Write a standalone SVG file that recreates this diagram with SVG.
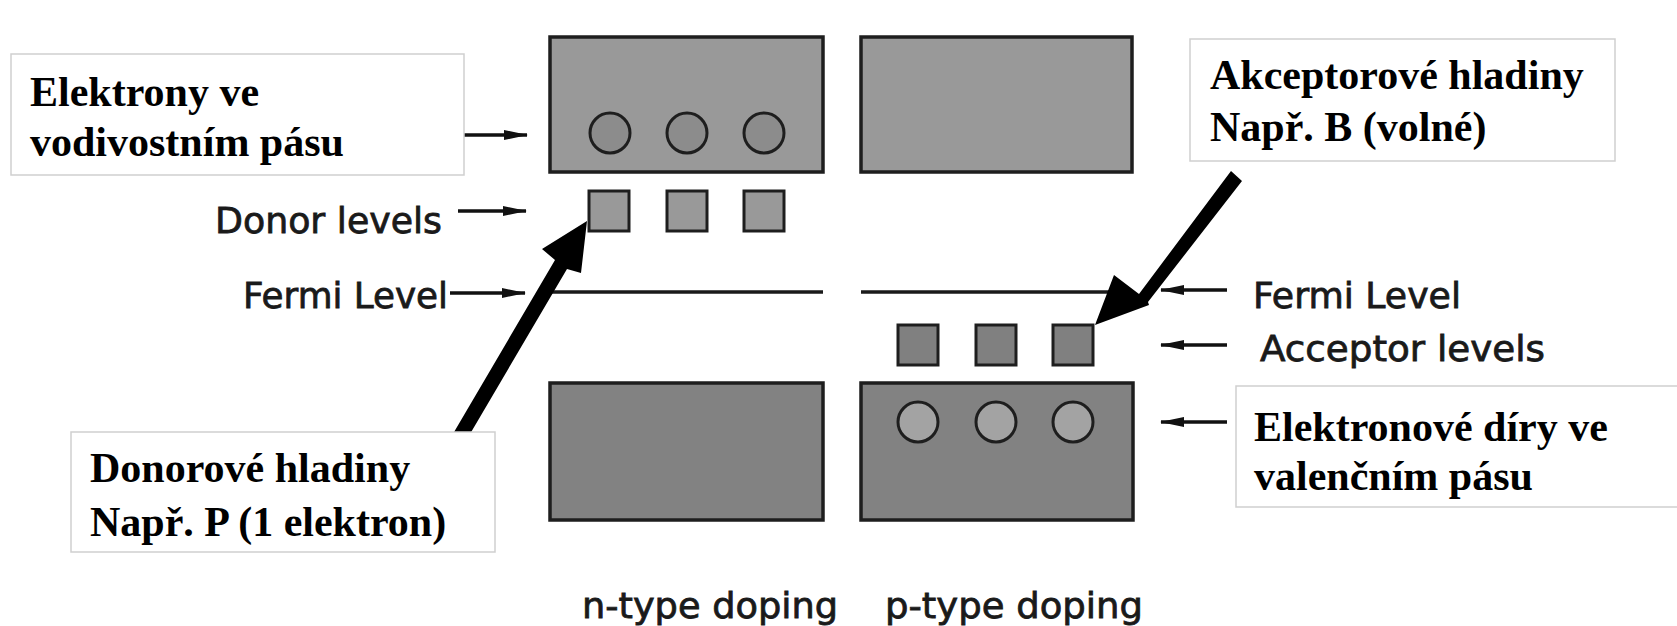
<svg xmlns="http://www.w3.org/2000/svg" width="1677" height="626" viewBox="0 0 1677 626">
<style>
.band{stroke:#1e1e1e;stroke-width:3.5}
.top{fill:#999}
.bot{fill:#828282}
.lvl{stroke:#1e1e1e;stroke-width:3}
.sm{font-family:"DejaVu Sans","Liberation Sans",Arial,sans-serif;font-size:36px;fill:#1a1a1a;stroke:#1a1a1a;stroke-width:0.8}
.lab{font-family:"Liberation Serif","Times New Roman",serif;font-size:42px;font-weight:bold;fill:#000}
.box{fill:#fff;stroke:#cfcfcf;stroke-width:1.5}
.ar{stroke:#111;stroke-width:3.5;fill:none}
.fermi{stroke:#1a1a1a;stroke-width:3.5}
</style>
<defs>
<marker id="ah" markerWidth="24" markerHeight="11" refX="23" refY="5.5" orient="auto" markerUnits="userSpaceOnUse">
<path d="M0,0.5 L24,5.5 L0,10.5 z" fill="#111"/>
</marker>
</defs>
<rect width="1677" height="626" fill="#fff"/>

<g id="n-conduction-band">
<rect class="band top" x="550" y="37" width="273" height="135"/>
<circle class="lvl" cx="610" cy="133" r="20" fill="#8c8c8c"/>
<circle class="lvl" cx="687" cy="133" r="20" fill="#8c8c8c"/>
<circle class="lvl" cx="764" cy="133" r="20" fill="#8c8c8c"/>
</g>
<g id="p-conduction-band">
<rect class="band top" x="861" y="37" width="271" height="135"/>
</g>
<g id="donor-levels">
<rect class="lvl" x="589" y="191" width="40" height="40" fill="#999"/>
<rect class="lvl" x="667" y="191" width="40" height="40" fill="#999"/>
<rect class="lvl" x="744" y="191" width="40" height="40" fill="#999"/>
</g>
<g id="fermi-n"><line class="fermi" x1="550" y1="292" x2="823" y2="292"/></g>
<g id="fermi-p"><line class="fermi" x1="861" y1="292" x2="1112" y2="292"/></g>
<g id="acceptor-levels">
<rect class="lvl" x="898" y="325" width="40" height="40" fill="#808080"/>
<rect class="lvl" x="976" y="325" width="40" height="40" fill="#808080"/>
<rect class="lvl" x="1053" y="325" width="40" height="40" fill="#808080"/>
</g>
<g id="n-valence-band">
<rect class="band bot" x="550" y="383" width="273" height="137"/>
</g>
<g id="p-valence-band">
<rect class="band bot" x="861" y="383" width="272" height="137"/>
<circle class="lvl" cx="918" cy="422" r="20" fill="#a3a3a3"/>
<circle class="lvl" cx="996" cy="422" r="20" fill="#a3a3a3"/>
<circle class="lvl" cx="1073" cy="422" r="20" fill="#a3a3a3"/>
</g>

<g id="small-labels">
<text class="sm" x="215" y="233" textLength="227" lengthAdjust="spacingAndGlyphs">Donor levels</text>
<text class="sm" x="243" y="308" textLength="205" lengthAdjust="spacingAndGlyphs">Fermi Level</text>
<text class="sm" x="1253" y="308" textLength="208" lengthAdjust="spacingAndGlyphs">Fermi Level</text>
<text class="sm" x="1260" y="361" textLength="285" lengthAdjust="spacingAndGlyphs">Acceptor levels</text>
<text class="sm" x="582" y="618" textLength="256" lengthAdjust="spacingAndGlyphs">n-type doping</text>
<text class="sm" x="885" y="618" textLength="258" lengthAdjust="spacingAndGlyphs">p-type doping</text>
</g>

<g id="connectors">
<line class="ar" x1="464" y1="135" x2="527" y2="135" marker-end="url(#ah)"/>
<line class="ar" x1="458" y1="211" x2="526" y2="211" marker-end="url(#ah)"/>
<line class="ar" x1="450" y1="293" x2="525" y2="293" marker-end="url(#ah)"/>
<line class="ar" x1="1227" y1="290" x2="1161" y2="290" marker-end="url(#ah)"/>
<line class="ar" x1="1227" y1="345" x2="1161" y2="345" marker-end="url(#ah)"/>
<line class="ar" x1="1227" y1="422" x2="1161" y2="422" marker-end="url(#ah)"/>
<polygon fill="#000" points="447,444 460,451 567,269 581,273 587,221 542,249 555,260"/>
<polygon fill="#000" points="1231,171 1242,181 1148,302 1149,305 1095,325 1114,275 1139,294"/>
</g>

<g id="label-elektrony">
<rect class="box" x="11" y="54" width="453" height="121"/>
<text class="lab" x="30" y="106">Elektrony ve</text>
<text class="lab" x="30" y="156">vodivostním pásu</text>
</g>
<g id="label-akceptor">
<rect class="box" x="1190" y="39" width="425" height="122"/>
<text class="lab" x="1210" y="89">Akceptorové hladiny</text>
<text class="lab" x="1210" y="141">Např. B (volné)</text>
</g>
<g id="label-diry">
<rect class="box" x="1236" y="386" width="445" height="121"/>
<text class="lab" x="1254" y="441">Elektronové díry ve</text>
<text class="lab" x="1254" y="490">valenčním pásu</text>
</g>
<g id="label-donor">
<rect class="box" x="71" y="432" width="424" height="120"/>
<text class="lab" x="90" y="482">Donorové hladiny</text>
<text class="lab" x="90" y="536">Např. P (1 elektron)</text>
</g>
</svg>
